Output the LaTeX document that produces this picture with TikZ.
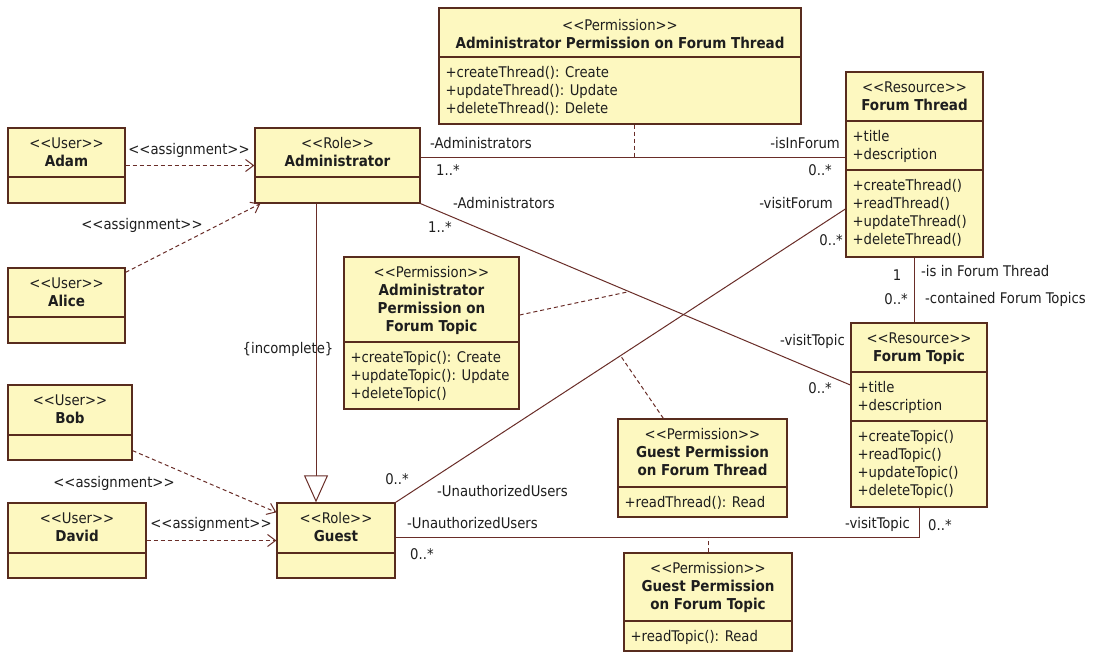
\documentclass[tikz,border=0pt]{standalone}
\usepackage{fontspec}
\setmainfont{DejaVu Sans Condensed}[Ligatures=TeXOff]
\usetikzlibrary{arrows.meta,fit,calc}

\definecolor{boxfill}{RGB}{253,248,192}
\definecolor{boxedge}{RGB}{88,44,30}
\definecolor{wire}{RGB}{105,45,40}
\definecolor{ink}{RGB}{30,30,30}

\tikzset{
  classbox/.style={draw=boxedge, fill=boxfill, line width=1.3pt, inner sep=0pt},
  divider/.style={draw=boxedge, line width=1.1pt},
  stereo/.style={font=\fontsize{14.7}{17}\selectfont, text=ink, anchor=base, inner sep=0pt},
  title/.style={font=\fontsize{15}{17}\selectfont\bfseries, text=ink, anchor=base, inner sep=0pt},
  member/.style={font=\fontsize{14.7}{17}\selectfont, text=ink, anchor=base west, inner sep=0pt, xshift=7pt},
  lbl/.style={font=\fontsize{14.7}{17}\selectfont, text=ink, inner sep=0pt, text height=10.5pt, text depth=3pt},
  assoc/.style={draw=wire, line width=1pt},
  assign/.style={draw=wire, line width=1pt, dash pattern=on 4pt off 3pt,
    -{Straight Barb[length=8pt,width=12pt]}},
  assocclass/.style={draw=wire, line width=1pt, dash pattern=on 4pt off 3pt},
  general/.style={draw=wire, line width=1pt,
    -{Triangle[open,length=27pt,width=24pt,fill=white]}},
}

% class box from its two corners
\newcommand\umlbox[5]{\node[classbox, fit={(#2,#3) (#4,#5)}] (#1) {};}
% compartment separator at height #2
\newcommand\umlrule[2]{\draw[divider] (#1.west |- 0,#2) -- (#1.east |- 0,#2);}

\begin{document}
\begin{tikzpicture}[x=1pt, y=-1pt]
\useasboundingbox[fill=white] (0,0) rectangle (1094,653);

% ---------- users ----------
\umlbox{adam}{8}{128}{125}{203}
\umlrule{adam}{177}
\node[stereo] (adam-s) at (adam.center |- 0,148) {<<User>>};
\node[title]  (adam-n) at (adam.center |- 0,166) {Adam};

\umlbox{alice}{8}{268}{125}{343}
\umlrule{alice}{317}
\node[stereo] (alice-s) at (alice.center |- 0,288) {<<User>>};
\node[title]  (alice-n) at (alice.center |- 0,306) {Alice};

\umlbox{bob}{8}{385}{132}{460}
\umlrule{bob}{435}
\node[stereo] (bob-s) at (bob.center |- 0,405) {<<User>>};
\node[title]  (bob-n) at (bob.center |- 0,423) {Bob};

\umlbox{david}{8}{503}{146}{578}
\umlrule{david}{553}
\node[stereo] (david-s) at (david.center |- 0,523) {<<User>>};
\node[title]  (david-n) at (david.center |- 0,541) {David};

% ---------- roles ----------
\umlbox{admin}{255}{128}{420}{203}
\umlrule{admin}{177}
\node[stereo] (admin-s) at (admin.center |- 0,148) {<<Role>>};
\node[title]  (admin-n) at (admin.center |- 0,166) {Administrator};

\umlbox{guest}{277}{503}{395}{578}
\umlrule{guest}{553}
\node[stereo] (guest-s) at (guest.center |- 0,523) {<<Role>>};
\node[title]  (guest-n) at (guest.center |- 0,541) {Guest};

% ---------- resources ----------
\umlbox{thread}{846}{72}{983}{257}
\umlrule{thread}{121}
\umlrule{thread}{170}
\node[stereo] (thread-s) at (thread.center |- 0,92) {<<Resource>>};
\node[title]  (thread-n) at (thread.center |- 0,110) {Forum Thread};
\node[member] (thread-a1) at (thread.west |- 0,141) {+title};
\node[member] (thread-a2) at (thread.west |- 0,159) {+description};
\node[member] (thread-o1) at (thread.west |- 0,190) {+createThread()};
\node[member] (thread-o2) at (thread.west |- 0,208) {+readThread()};
\node[member] (thread-o3) at (thread.west |- 0,226) {+updateThread()};
\node[member] (thread-o4) at (thread.west |- 0,244) {+deleteThread()};

\umlbox{topic}{851}{323}{987}{507}
\umlrule{topic}{372}
\umlrule{topic}{421}
\node[stereo] (topic-s) at (topic.center |- 0,343) {<<Resource>>};
\node[title]  (topic-n) at (topic.center |- 0,361) {Forum Topic};
\node[member] (topic-a1) at (topic.west |- 0,392) {+title};
\node[member] (topic-a2) at (topic.west |- 0,410) {+description};
\node[member] (topic-o1) at (topic.west |- 0,441) {+createTopic()};
\node[member] (topic-o2) at (topic.west |- 0,459) {+readTopic()};
\node[member] (topic-o3) at (topic.west |- 0,477) {+updateTopic()};
\node[member] (topic-o4) at (topic.west |- 0,495) {+deleteTopic()};

% ---------- permissions ----------
\umlbox{apthread}{439}{8}{801}{124}
\umlrule{apthread}{57}
\node[stereo] (apthread-s) at (apthread.center |- 0,30) {<<Permission>>};
\node[title]  (apthread-n) at (apthread.center |- 0,48) {Administrator Permission on Forum Thread};
\node[member] (apthread-o1) at (apthread.west |- 0,77) {+createThread(): Create};
\node[member] (apthread-o2) at (apthread.west |- 0,95) {+updateThread(): Update};
\node[member] (apthread-o3) at (apthread.west |- 0,113) {+deleteThread(): Delete};

\umlbox{aptopic}{344}{257}{519}{409}
\umlrule{aptopic}{342}
\node[stereo] (aptopic-s)  at (aptopic.center |- 0,277) {<<Permission>>};
\node[title]  (aptopic-n1) at (aptopic.center |- 0,295) {Administrator};
\node[title]  (aptopic-n2) at (aptopic.center |- 0,313) {Permission on};
\node[title]  (aptopic-n3) at (aptopic.center |- 0,331) {Forum Topic};
\node[member] (aptopic-o1) at (aptopic.west |- 0,362) {+createTopic(): Create};
\node[member] (aptopic-o2) at (aptopic.west |- 0,380) {+updateTopic(): Update};
\node[member] (aptopic-o3) at (aptopic.west |- 0,398) {+deleteTopic()};

\umlbox{gpthread}{618}{419}{787}{517}
\umlrule{gpthread}{487}
\node[stereo] (gpthread-s)  at (gpthread.center |- 0,439) {<<Permission>>};
\node[title]  (gpthread-n1) at (gpthread.center |- 0,457) {Guest Permission};
\node[title]  (gpthread-n2) at (gpthread.center |- 0,475) {on Forum Thread};
\node[member] (gpthread-o1) at (gpthread.west |- 0,507) {+readThread(): Read};

\umlbox{gptopic}{624}{553}{792}{651}
\umlrule{gptopic}{621}
\node[stereo] (gptopic-s)  at (gptopic.center |- 0,573) {<<Permission>>};
\node[title]  (gptopic-n1) at (gptopic.center |- 0,591) {Guest Permission};
\node[title]  (gptopic-n2) at (gptopic.center |- 0,609) {on Forum Topic};
\node[member] (gptopic-o1) at (gptopic.west |- 0,641) {+readTopic(): Read};

% ---------- role assignments ----------
\draw[assign] (adam.east) -- (admin.west);
\node[lbl] (as-adam) at (189,151) {<<assignment>>};
\draw[assign] ([yshift=-5pt]alice.north east) -- ([xshift=6pt]admin.south west);
\node[lbl] (as-alice) at (142,226) {<<assignment>>};
\draw[assign] ([yshift=10pt]bob.south east) -- ([yshift=-10pt]guest.north west);
\node[lbl] (as-bob) at (114,484) {<<assignment>>};
\draw[assign] (david.east) -- (guest.west);
\node[lbl] (as-david) at (211,525) {<<assignment>>};

% ---------- role hierarchy ----------
\coordinate (gen-x) at (316,0);
\draw[general] (admin.south -| gen-x) -- (guest.north -| gen-x);
\node[lbl] (incomplete) at (288,350) {\{incomplete\}};

% ---------- Administrator -- Forum Thread ----------
\draw[assoc] (admin.east |- 0,157) -- (thread.west |- 0,157);
\node[lbl, anchor=west] (at-r1) at (430,145) {-Administrators};
\node[lbl, anchor=west] (at-m1) at (436,172) {1..*};
\node[lbl, anchor=east] (at-r2) at (840,145) {-isInForum};
\node[lbl, anchor=east] (at-m2) at (832,172) {0..*};
\coordinate (apt-link) at (634,157);
\draw[assocclass] (apthread.south -| apt-link) -- (apt-link);

% ---------- Administrator -- Forum Topic ----------
\coordinate (topic-in) at (topic.west |- 0,385);
\draw[assoc] (admin.south east) -- (topic-in);
\node[lbl, anchor=west] (ap-r1) at (453,205) {-Administrators};
\node[lbl, anchor=west] (ap-m1) at (428,229) {1..*};
\node[lbl, anchor=east] (ap-r2) at (845,342) {-visitTopic};
\node[lbl, anchor=east] (ap-m2) at (832,390) {0..*};
\coordinate (apc-link) at ($(admin.south east)!0.485!(topic-in)$);
\draw[assocclass] (aptopic.east |- 0,315) -- (apc-link);

% ---------- Guest -- Forum Thread ----------
\coordinate (thread-in) at (thread.west |- 0,209);
\draw[assoc] (guest.north east) -- (thread-in);
\node[lbl] (gt-m1) at (397,481) {0..*};
\node[lbl, anchor=west] (gt-r1) at (437,493) {-UnauthorizedUsers};
\node[lbl, anchor=east] (gt-r2) at (833,205) {-visitForum};
\node[lbl, anchor=east] (gt-m2) at (843,242) {0..*};
\coordinate (gpt-link) at ($(guest.north east)!0.5!(thread-in)$);
\draw[assocclass] ([xshift=46pt]gpthread.north west) -- (gpt-link);

% ---------- Guest -- Forum Topic ----------
\draw[assoc] (guest.east |- 0,537) -| (topic.south);
\node[lbl, anchor=west] (gp-r1) at (407,525) {-UnauthorizedUsers};
\node[lbl, anchor=west] (gp-m1) at (410,556) {0..*};
\node[lbl, anchor=east] (gp-r2) at (910,525) {-visitTopic};
\node[lbl, anchor=west] (gp-m2) at (928,527) {0..*};
\coordinate (gpc-link) at (gptopic.north |- 0,537);
\draw[assocclass] (gptopic.north) -- (gpc-link);

% ---------- Forum Thread -- Forum Topic ----------
\draw[assoc] (thread.south) -- (thread.south |- topic.north);
\node[lbl] (tt-m1) at (897,277) {1};
\node[lbl, anchor=west] (tt-r1) at (921,273) {-is in Forum Thread};
\node[lbl, anchor=east] (tt-m2) at (908,301) {0..*};
\node[lbl, anchor=west] (tt-r2) at (925,300) {-contained Forum Topics};
\end{tikzpicture}
\end{document}
